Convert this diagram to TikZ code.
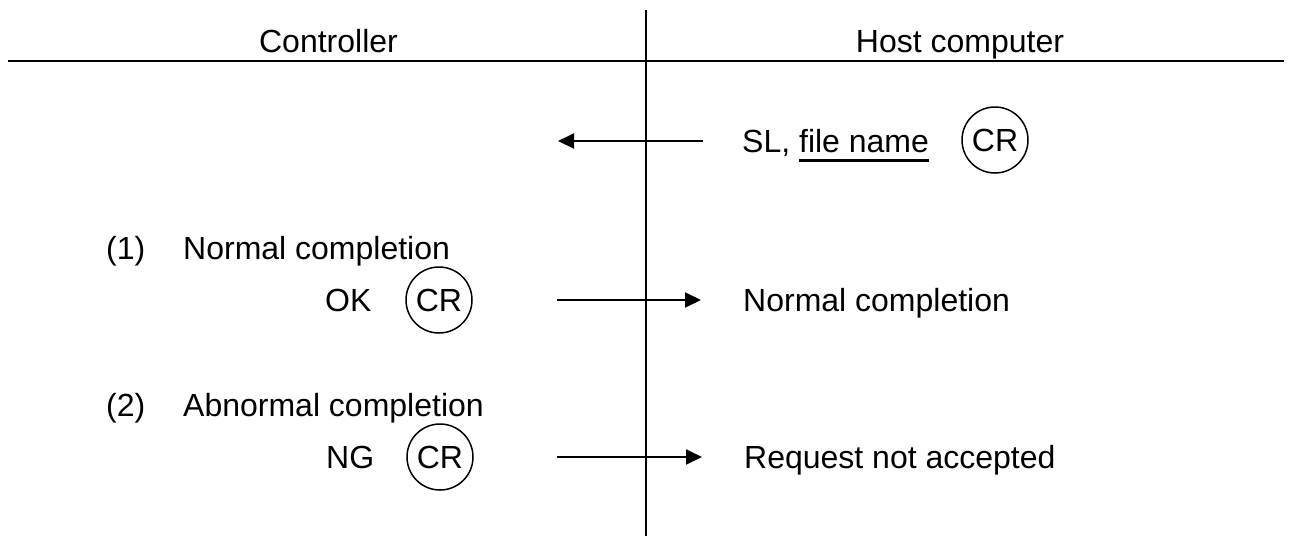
\documentclass[tikz,border=0pt]{standalone}
\usepackage{fontspec}
\setmainfont{Liberation Sans}
\usetikzlibrary{positioning,arrows.meta}
\tikzstyle{heading}=[anchor=base, inner sep=0]
\tikzstyle{msg}=[anchor=base west, inner sep=0]
\tikzstyle{crmark}=[draw, circle, line width=1.5pt, inner sep=0, minimum size=66pt]
\tikzstyle{send}=[-{Triangle[length=16pt,width=15pt]}, line width=2pt]
\tikzstyle{divider}=[line width=2.5pt]
\newcommand{\fileul}[1]{\setbox0\hbox{#1}\rlap{\rule[-9pt]{\wd0}{2.5pt}}#1}
\begin{document}
\begin{tikzpicture}[x=1pt, y=-1pt, font=\fontsize{32}{38}\selectfont]
    \useasboundingbox (0, 0) rectangle (1291, 536);
    % columns
    \node[heading] (ctrl) at (328.5, 52) {Controller};
    \node[heading] (host) at (960, 52) {Host computer};
    \coordinate (hl) at (8, 61);
    \coordinate (hr) at (1284, 61);
    \coordinate (vt) at (646, 10);
    \coordinate (vb) at (646, 536);
    \draw[divider] (hl) -- (hr);
    \draw[line width=2pt] (vt) -- (vb);
    % request
    \node[msg] (sl) at (742, 152.5) {SL, \fileul{file name}};
    \node[crmark] (cr0) at (995, 140) {CR};
    \coordinate (s0) at (703, 141);
    \coordinate (e0) at (558, 141);
    \draw[send] (s0) -- (e0);
    % (1)
    \node[msg] (n1) at (106, 259.5) {(1)};
    \node[msg] (t1) at (183, 259.5) {Normal completion};
    \node[msg] (ok) at (325, 311.5) {OK};
    \node[crmark] (cr1) at (439, 300) {CR};
    \coordinate (s1) at (557, 300);
    \coordinate (e1) at (701, 300);
    \draw[send] (s1) -- (e1);
    \node[msg] (r1) at (743, 311.5) {Normal completion};
    % (2)
    \node[msg] (n2) at (106, 416.5) {(2)};
    \node[msg] (t2) at (183, 416.5) {Abnormal completion};
    \node[msg] (ng) at (326, 468.5) {NG};
    \node[crmark] (cr2) at (440, 457) {CR};
    \coordinate (s2) at (557, 457);
    \coordinate (e2) at (702, 457);
    \draw[send] (s2) -- (e2);
    \node[msg] (r2) at (744, 468.5) {Request not accepted};
\end{tikzpicture}
\end{document}
